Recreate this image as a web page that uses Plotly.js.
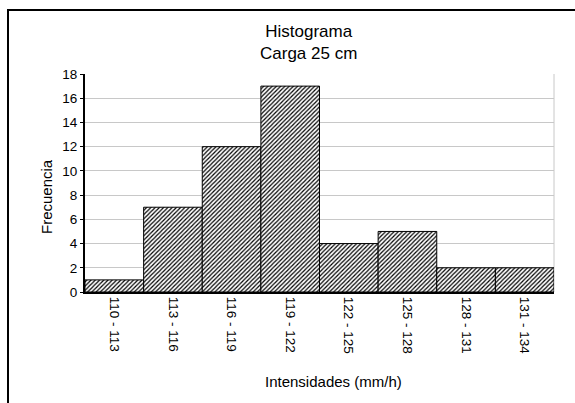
<!DOCTYPE html>
<html>
<head>
<meta charset="utf-8">
<script src="https://cdn.plot.ly/plotly-3.0.1.min.js"></script>
<style>
  html, body { margin: 0; padding: 0; background: #fff; }
  #chart { width: 575px; height: 403px; position: relative; }
  #frame { position: absolute; left: 7px; top: 9px; width: 600px; height: 420px;
           border-top: 2px solid #000; border-left: 2px solid #000; pointer-events: none; }
</style>
</head>
<body>
<div style="position:relative;width:575px;height:403px;overflow:hidden">
  <div id="chart"></div>
  <div id="frame"></div>
</div>
<script>
const categories = ["110 - 113", "113 - 116", "116 - 119", "119 - 122", "122 - 125", "125 - 128", "128 - 131", "131 - 134"];
const frequencies = [1, 7, 12, 17, 4, 5, 2, 2];
const titleText = "Histograma<br>Carga 25 cm";
const xTitle = "Intensidades (mm/h)";
const yTitle = "Frecuencia";
const yTicks = [0, 2, 4, 6, 8, 10, 12, 14, 16, 18];

const FONT = "Liberation Sans, Arial, sans-serif";
const L = 85, R = 21, T = 74, B = 111;
const W = 575, H = 403;
const pw = W - L - R, ph = H - T - B;
const px2x = p => (p - L) / pw;
const py2y = p => (H - B - p) / ph;

const trace = {
  type: "bar",
  x: categories,
  y: frequencies,
  marker: {
    color: "white",
    line: { color: "black", width: 1 },
    pattern: { shape: "/", fgcolor: "black", bgcolor: "white", size: 3, solidity: 0.4 }
  },
  hoverinfo: "x+y"
};

const layout = {
  width: W, height: H,
  margin: { l: L, r: R, t: T, b: B, pad: 0 },
  paper_bgcolor: "white",
  plot_bgcolor: "white",
  bargap: 0,
  showlegend: false,
  font: { family: FONT, color: "#000", size: 13 },
  xaxis: {
    type: "category",
    tickangle: 90,
    showline: true, linecolor: "#000", linewidth: 2,
    showgrid: false, ticks: "", ticklen: 0,
    tickfont: { family: FONT, size: 13.5, color: "#000" },
    automargin: false
  },
  yaxis: {
    range: [0, 18],
    tickvals: yTicks,
    showline: true, linecolor: "#000", linewidth: 2,
    showgrid: true, gridcolor: "#c8c8c8", gridwidth: 1,
    zeroline: false,
    ticks: "outside", ticklen: 3, tickcolor: "#000", tickwidth: 1,
    tickfont: { family: FONT, size: 13.5, color: "#000" },
    automargin: false
  },
  shapes: [
    { type: "line", xref: "paper", yref: "paper", x0: 1, x1: 1, y0: 0, y1: 1,
      line: { color: "#c8c8c8", width: 1 }, layer: "below" }
  ],
  annotations: [
    { text: titleText, xref: "paper", yref: "paper", x: px2x(308), y: py2y(42),
      xanchor: "center", yanchor: "middle", showarrow: false,
      font: { family: FONT, size: 17, color: "#000" } },
    { text: xTitle, xref: "paper", yref: "paper", x: px2x(333), y: py2y(381),
      xanchor: "center", yanchor: "middle", showarrow: false,
      font: { family: FONT, size: 15, color: "#000" } },
    { text: yTitle, xref: "paper", yref: "paper", x: px2x(46), y: py2y(197),
      xanchor: "center", yanchor: "middle", showarrow: false, textangle: -90,
      font: { family: FONT, size: 15, color: "#000" } }
  ]
};

Plotly.newPlot("chart", [trace], layout, { displayModeBar: false, staticPlot: true });
</script>
</body>
</html>
